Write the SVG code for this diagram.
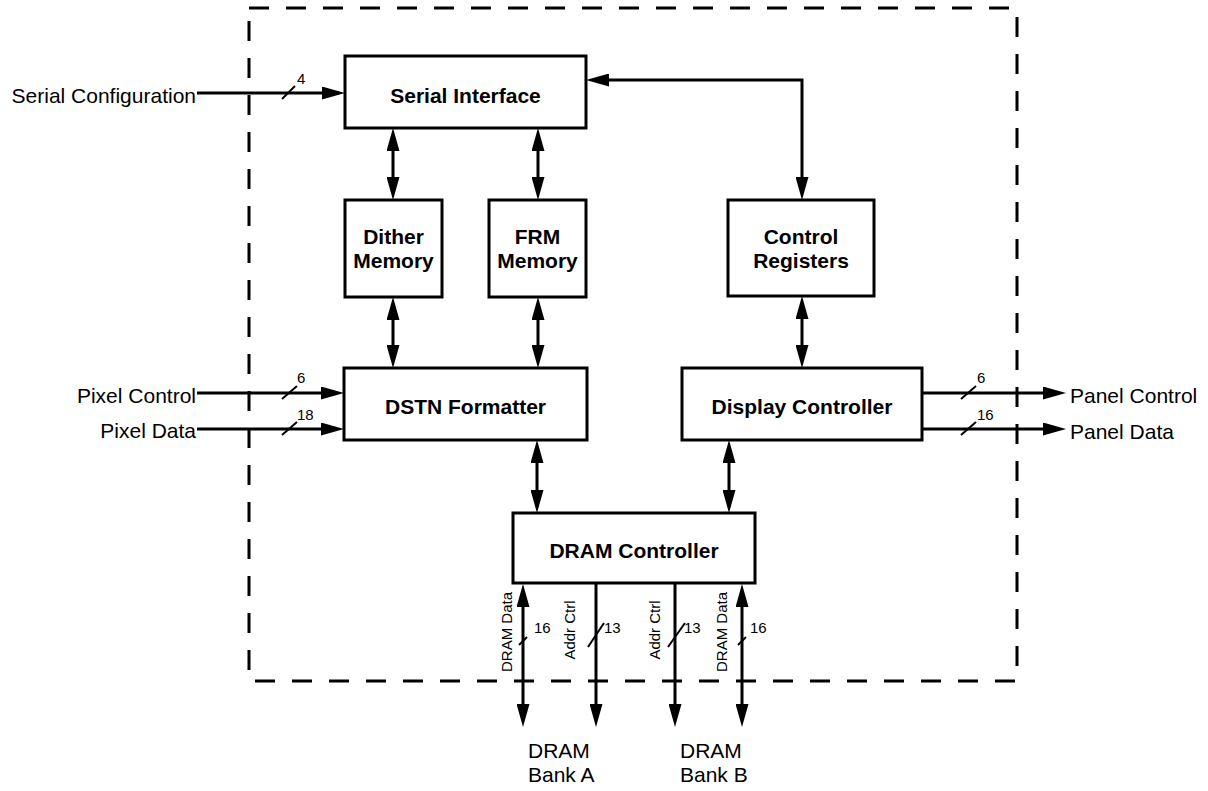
<svg xmlns="http://www.w3.org/2000/svg" width="1208" height="791" viewBox="0 0 1208 791">
<style>
.box{fill:#fff;stroke:#000;stroke-width:3}
.lbl{font-family:"Liberation Sans",Arial,sans-serif;font-size:21px;font-weight:bold;text-anchor:middle;fill:#000}
.txt{font-family:"Liberation Sans",Arial,sans-serif;font-size:21px;fill:#000}
.num{font-family:"Liberation Sans",Arial,sans-serif;font-size:15px;fill:#000}
.rot{font-family:"Liberation Sans",Arial,sans-serif;font-size:15px;fill:#000;text-anchor:middle}
.wire{fill:none;stroke:#000;stroke-width:3}
.uni{marker-end:url(#ah)}
.bi{marker-start:url(#ah);marker-end:url(#ah)}
.slash{stroke:#000;stroke-width:2}
.border{fill:none;stroke:#000;stroke-width:3;stroke-dasharray:20 17}
</style>
<defs>
<marker id="ah" markerUnits="userSpaceOnUse" markerWidth="23" markerHeight="13" refX="13" refY="6.5" orient="auto-start-reverse" viewBox="0 0 23 13">
<path d="M0,0 L23,6.5 L0,13 z" fill="#000"/>
</marker>
</defs>
<rect class="border" x="249" y="8" width="768" height="673"/>
<g id="connectors">
<path class="wire uni" d="M197,93 H335"/>
<path class="wire bi" d="M393,138 V190"/>
<path class="wire bi" d="M538,138 V190"/>
<path class="wire bi" d="M596,80 H802 V190"/>
<path class="wire bi" d="M393,307 V358"/>
<path class="wire bi" d="M538,307 V358"/>
<path class="wire bi" d="M802,306 V358"/>
<path class="wire uni" d="M197,393 H334"/>
<path class="wire uni" d="M197,429 H334"/>
<path class="wire uni" d="M922,393 H1056"/>
<path class="wire uni" d="M922,429 H1056"/>
<path class="wire bi" d="M537,450 V503"/>
<path class="wire bi" d="M729,450 V503"/>
<path class="wire bi" d="M523,594 V717"/>
<path class="wire uni" d="M596,583 V717"/>
<path class="wire uni" d="M675,583 V717"/>
<path class="wire bi" d="M742,594 V717"/>
<line class="slash" x1="282" y1="99" x2="295" y2="86"/>
<line class="slash" x1="282" y1="399" x2="297" y2="386"/>
<line class="slash" x1="282" y1="435" x2="297" y2="422"/>
<line class="slash" x1="961" y1="399" x2="976" y2="386"/>
<line class="slash" x1="961" y1="435" x2="976" y2="422"/>
<line class="slash" x1="519" y1="645" x2="527" y2="637"/>
<line class="slash" x1="588" y1="647" x2="604" y2="623"/>
<line class="slash" x1="668" y1="647" x2="685" y2="623"/>
<line class="slash" x1="738" y1="645" x2="746" y2="637"/>
<text class="num" x="297" y="84">4</text>
<text class="num" x="297" y="383">6</text>
<text class="num" x="297" y="420">18</text>
<text class="num" x="977" y="383">6</text>
<text class="num" x="977" y="420">16</text>
<text class="num" x="534" y="633">16</text>
<text class="num" x="604" y="633">13</text>
<text class="num" x="684" y="633">13</text>
<text class="num" x="750" y="633">16</text>
<text class="rot" transform="translate(512,632) rotate(-90)">DRAM Data</text>
<text class="rot" transform="translate(575,630) rotate(-90)">Addr Ctrl</text>
<text class="rot" transform="translate(660,630) rotate(-90)">Addr Ctrl</text>
<text class="rot" transform="translate(727,632) rotate(-90)">DRAM Data</text>
</g>
<g id="ext-labels">
<text class="txt" x="196" y="103" text-anchor="end">Serial Configuration</text>
<text class="txt" x="196" y="403" text-anchor="end">Pixel Control</text>
<text class="txt" x="196" y="438" text-anchor="end">Pixel Data</text>
<text class="txt" x="1070" y="403">Panel Control</text>
<text class="txt" x="1070" y="439">Panel Data</text>
<text class="txt" x="528" y="758">DRAM</text>
<text class="txt" x="528" y="782">Bank A</text>
<text class="txt" x="680" y="758">DRAM</text>
<text class="txt" x="680" y="782">Bank B</text>
</g>
<g id="serial-interface">
<rect class="box" x="345" y="56" width="241" height="72"/>
<text class="lbl" x="465.5" y="103">Serial Interface</text>
</g>
<g id="dither-memory">
<rect class="box" x="345" y="200" width="97" height="97"/>
<text class="lbl" x="393.5" y="244">Dither</text>
<text class="lbl" x="393.5" y="268">Memory</text>
</g>
<g id="frm-memory">
<rect class="box" x="489" y="200" width="97" height="97"/>
<text class="lbl" x="537.5" y="244">FRM</text>
<text class="lbl" x="537.5" y="268">Memory</text>
</g>
<g id="control-registers">
<rect class="box" x="728" y="200" width="146" height="96"/>
<text class="lbl" x="801" y="244">Control</text>
<text class="lbl" x="801" y="268">Registers</text>
</g>
<g id="dstn-formatter">
<rect class="box" x="344" y="368" width="243" height="72"/>
<text class="lbl" x="465.5" y="414">DSTN Formatter</text>
</g>
<g id="display-controller">
<rect class="box" x="682" y="368" width="240" height="72"/>
<text class="lbl" x="802" y="414">Display Controller</text>
</g>
<g id="dram-controller">
<rect class="box" x="513" y="513" width="242" height="70"/>
<text class="lbl" x="634" y="558">DRAM Controller</text>
</g>
</svg>
